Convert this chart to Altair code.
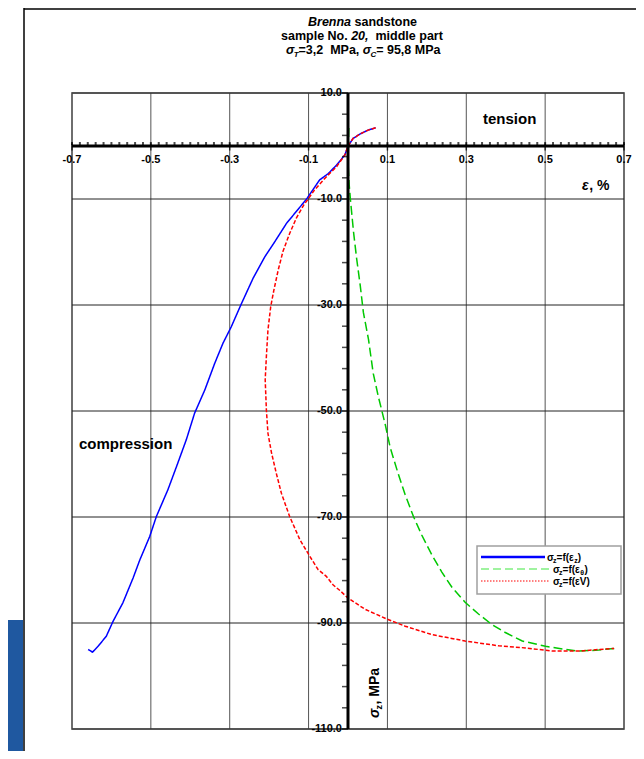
import altair as alt
import pandas as pd

FONT = "Liberation Sans"

# ---------------- data ----------------
blue_x = [0.070, 0.051, 0.030, 0.013, 0.0, -0.008, -0.029, -0.050, -0.072, -0.105, -0.125,
          -0.156, -0.186, -0.211, -0.241, -0.270, -0.296, -0.317, -0.338, -0.363, -0.389,
          -0.410, -0.435, -0.457, -0.486, -0.503, -0.528, -0.545, -0.571, -0.596, -0.613,
          -0.634, -0.648, -0.659]
blue_y = [3.43, 3.0, 2.24, 1.43, 0.0, -1.7, -3.6, -5.2, -6.4, -10.0, -11.8,
          -14.6, -18.1, -20.9, -25.0, -29.7, -34.1, -37.2, -41.0, -46.0, -50.4,
          -55.4, -60.5, -64.9, -69.9, -73.7, -78.1, -81.5, -86.2, -89.7, -92.5,
          -94.4, -95.5, -95.0]

green_x = [0.002, 0.001, 0.0, 0.003, 0.006, 0.014, 0.022, 0.031, 0.039, 0.052, 0.064,
           0.077, 0.094, 0.107, 0.128, 0.145, 0.166, 0.187, 0.213, 0.238, 0.264, 0.297,
           0.331, 0.365, 0.399, 0.442, 0.501, 0.552, 0.586, 0.636, 0.675]
green_y = [3.4, 0.0, -3.0, -7.3, -10.0, -16.2, -21.3, -26.3, -31.4, -36.5, -42.9,
           -47.3, -52.4, -56.9, -62.0, -65.8, -69.9, -73.4, -77.2, -80.4, -83.3, -86.1,
           -88.3, -90.3, -91.8, -93.4, -94.4, -95.0, -95.3, -95.1, -94.8]

red_x = [0.070, 0.051, 0.030, 0.013, 0.0, -0.008, -0.029, -0.060, -0.085, -0.101, -0.112,
         -0.131, -0.148, -0.165, -0.177, -0.188, -0.196, -0.203, -0.207, -0.210, -0.207,
         -0.203, -0.194, -0.182, -0.169, -0.148, -0.122, -0.097, -0.076, -0.055, -0.038,
         -0.020, 0.0, 0.043, 0.100, 0.145, 0.213, 0.297, 0.382, 0.450, 0.518, 0.586,
         0.636, 0.675]
red_y = [3.43, 3.0, 2.24, 1.43, 0.0, -1.7, -3.9, -6.2, -8.3, -10.0, -11.1,
         -13.6, -16.5, -19.9, -23.4, -27.2, -30.3, -34.7, -39.7, -44.1, -49.8,
         -54.2, -57.9, -61.7, -65.5, -69.9, -74.3, -77.4, -79.9, -81.2, -82.8,
         -83.9, -85.3, -87.4, -89.3, -90.6, -92.2, -93.4, -94.3, -94.7, -95.3, -95.3,
         -95.0, -94.8]

series_names = ["ez", "etheta", "eV"]
series_colors = ["#0000FF", "#00C800", "#FF0000"]
series_dashes = [[1, 0], [9, 4], [4, 2]]

x_tick_values = [-0.7, -0.5, -0.3, -0.1, 0.1, 0.3, 0.5, 0.7]
x_tick_labels = ["-0.7", "-0.5", "-0.3", "-0.1", "0.1", "0.3", "0.5", "0.7"]
y_tick_values = [10, -10, -30, -50, -70, -90, -110]
y_tick_labels = ["10.0", "-10.0", "-30.0", "-50.0", "-70.0", "-90.0", "-110.0"]
y_minor_values = [10 - 4 * k for k in range(31)]
x_minor_values = [round(-0.7 + 0.02 * k, 2) for k in range(71)]

# ---------------- geometry ----------------
W, H = 552, 636
PL, PT = 64, 85          # padding -> plot origin at page (72, 93)
OX, OY = 72, 93          # page coords of plot origin

xs = alt.Scale(domain=[-0.7, 0.7], nice=False, zero=False)
ys = alt.Scale(domain=[-110, 10], nice=False, zero=False)

rows = []
for name, xv, yv in [("ez", blue_x, blue_y), ("etheta", green_x, green_y), ("eV", red_x, red_y)]:
    for i, (a, b) in enumerate(zip(xv, yv)):
        rows.append({"series": name, "x": a, "y": b, "i": i})
curves = pd.DataFrame(rows)

# grid lines (drawn as rules from the tick lists)
vgrid = alt.Chart(pd.DataFrame({"v": x_tick_values})).mark_rule(color="#555555", strokeWidth=1).encode(
    x=alt.X("v:Q", scale=xs, axis=None), y=alt.datum(-110, scale=ys, axis=None), y2=alt.datum(10))
hgrid = alt.Chart(pd.DataFrame({"v": y_tick_values})).mark_rule(color="#222222", strokeWidth=1).encode(
    y=alt.Y("v:Q", scale=ys, axis=None), x=alt.datum(-0.7, scale=xs, axis=None), x2=alt.datum(0.7))

curve_layer = alt.Chart(curves).mark_line(strokeWidth=1.5).encode(
    x=alt.X("x:Q", scale=xs, axis=None),
    y=alt.Y("y:Q", scale=ys, axis=None),
    color=alt.Color("series:N", scale=alt.Scale(domain=series_names, range=series_colors), legend=None),
    strokeDash=alt.StrokeDash("series:N", scale=alt.Scale(domain=series_names, range=series_dashes), legend=None),
    order="i:Q",
)

# axes drawn at zero
yaxis_line = alt.Chart().mark_rule(color="black", strokeWidth=3).encode(
    x=alt.datum(0, scale=xs, axis=None), y=alt.datum(-110, scale=ys, axis=None), y2=alt.datum(10))
xaxis_line = alt.Chart().mark_rule(color="black", strokeWidth=3).encode(
    y=alt.datum(0, scale=ys, axis=None), x=alt.datum(-0.7, scale=xs, axis=None), x2=alt.datum(0.7))

ymin_df = pd.DataFrame({"v": y_minor_values})
y_ticks = alt.Chart(ymin_df).mark_tick(orient="horizontal", size=6, thickness=1.5, color="black", xOffset=-3).encode(
    x=alt.datum(0, scale=xs, axis=None), y=alt.Y("v:Q", scale=ys, axis=None))

xmin_df = pd.DataFrame({"v": x_minor_values})
x_ticks = alt.Chart(xmin_df).mark_tick(orient="vertical", size=3, thickness=2, color="black", yOffset=-2.5).encode(
    y=alt.datum(0, scale=ys, axis=None), x=alt.X("v:Q", scale=xs, axis=None))

xmaj_df = pd.DataFrame({"v": x_tick_values, "t": x_tick_labels})
x_major = alt.Chart(xmaj_df).mark_tick(orient="vertical", size=7, thickness=1.5, color="black", yOffset=1).encode(
    y=alt.datum(0, scale=ys, axis=None), x=alt.X("v:Q", scale=xs, axis=None))
x_labels = alt.Chart(xmaj_df).mark_text(font=FONT, fontSize=11, fontWeight="bold", dy=14, color="black").encode(
    x=alt.X("v:Q", scale=xs, axis=None), y=alt.datum(0, scale=ys, axis=None), text="t:N")

ymaj_df = pd.DataFrame({"v": y_tick_values, "t": y_tick_labels})
y_labels = alt.Chart(ymaj_df).mark_text(font=FONT, fontSize=11, fontWeight="bold", align="right",
                                         baseline="middle", dx=-6, color="black").encode(
    y=alt.Y("v:Q", scale=ys, axis=None), x=alt.datum(0, scale=xs, axis=None), text="t:N")

# ---------------- text runs (title, labels, legend) ----------------
CW = {' ': 278, '\u00a0': 278, '(': 333, ')': 333, ',': 278, '-': 333, '.': 278, '=': 584, '%': 889,
      'B': 722, 'C': 722, 'M': 833, 'N': 722, 'P': 667, 'T': 611, 'V': 667,
      'a': 556, 'c': 556, 'd': 611, 'e': 556, 'f': 333, 'i': 278, 'l': 278, 'm': 889, 'n': 611,
      'o': 611, 'p': 611, 'r': 389, 's': 556, 't': 333, 'z': 500,
      'σ': 610, 'ε': 520, 'θ': 610}
for d in "0123456789":
    CW[d] = 556


def runs(parts, x0, y0):
    """Lay out text pieces left to right; leading/trailing blanks become advance only."""
    out = []
    x = x0
    for text, size, italic, dy in parts:
        lead = len(text) - len(text.lstrip(" "))
        x += lead * CW[' '] * size / 1000.0
        core = text.strip(" ")
        out.append({"px": x - OX, "py": y0 + dy - OY, "text": core, "size": size,
                    "style": "italic" if italic else "normal"})
        x += sum(CW.get(c, 600) for c in core) * size / 1000.0
        trail = len(text) - len(text.rstrip(" "))
        x += trail * CW[' '] * size / 1000.0
    return out


T = 12.5
txt = []
txt += runs([("Brenna", T, True, 0), (" sandstone", T, False, 0)], 308, 26)
txt += runs([("sample No. ", T, False, 0), ("20,", T, True, 0), ("  middle part", T, False, 0)], 281, 40)
txt += runs([("σ", T, True, 0), ("T", 8, True, 3), ("=3,2\u00a0\u00a0MPa, ", T, False, 0),
             ("σ", T, True, 0), ("C", 8, True, 3), ("= 95,8 MPa", T, False, 0)], 286, 54)
txt += runs([("tension", 15, False, 0)], 483, 124)
txt += runs([("compression", 15, False, 0)], 79, 449)
txt += runs([("ε", 14, True, 0), (", %", 14, False, 0)], 582, 190)
L = 10
txt += runs([("σ", L, False, 0), ("z", 7, False, 2), ("=f(ε", L, False, 0), ("z", 7, False, 2), (")", L, False, 0)], 547, 561)
txt += runs([("σ", L, False, 0), ("z", 7, False, 2), ("=f(ε", L, False, 0), ("θ", 7, False, 2), (")", L, False, 0)], 553, 573)
txt += runs([("σ", L, False, 0), ("z", 7, False, 2), ("=f(εV)", L, False, 0)], 553, 585)
txt_df = pd.DataFrame(txt)


def text_layer(df, style):
    return alt.Chart(df).mark_text(font=FONT, fontWeight="bold", fontStyle=style, align="left",
                                   baseline="alphabetic", color="black").encode(
        x=alt.X("px:Q", scale=None, axis=None), y=alt.Y("py:Q", scale=None, axis=None),
        text="text:N", size=alt.Size("size:Q", scale=None, legend=None))


text_norm = text_layer(txt_df[txt_df["style"] == "normal"], "normal")
text_ital = text_layer(txt_df[txt_df["style"] == "italic"], "italic")

# rotated y-axis title (reads bottom to top)
rot = pd.DataFrame([
    {"px": 379 - OX, "py": 718 - OY, "text": "σ", "size": 14, "style": "italic"},
    {"px": 382 - OX, "py": 709.5 - OY, "text": "z", "size": 9, "style": "normal"},
    {"px": 379 - OX, "py": 704.5 - OY, "text": ", MPa", "size": 14, "style": "normal"},
])


def rot_layer(df, style):
    return alt.Chart(df).mark_text(font=FONT, fontWeight="bold", fontStyle=style, align="left",
                                   baseline="alphabetic", angle=270, color="black").encode(
        x=alt.X("px:Q", scale=None, axis=None), y=alt.Y("py:Q", scale=None, axis=None),
        text="text:N", size=alt.Size("size:Q", scale=None, legend=None))


rot_n = rot_layer(rot[rot["style"] == "normal"], "normal")
rot_i = rot_layer(rot[rot["style"] == "italic"], "italic")

# legend box and samples
leg_box = alt.Chart().mark_rect(fill="white", stroke="#A0A0A0", strokeWidth=1.5).encode(
    x=alt.value(477 - OX), x2=alt.value(621 - OX), y=alt.value(546 - OY), y2=alt.value(594 - OY))
leg_b = alt.Chart().mark_rule(color="#0000FF", strokeWidth=2.5).encode(
    x=alt.value(481 - OX), x2=alt.value(545 - OX), y=alt.value(557 - OY))
leg_g = alt.Chart().mark_rule(color="#80F080", strokeWidth=1.5, strokeDash=[8, 4]).encode(
    x=alt.value(481 - OX), x2=alt.value(551 - OX), y=alt.value(569 - OY))
leg_r = alt.Chart().mark_rule(color="#FF0000", strokeWidth=1, strokeDash=[1.5, 1.5]).encode(
    x=alt.value(481 - OX), x2=alt.value(550 - OX), y=alt.value(581 - OY))

# outer frame of the scanned page and the blue strip at its left
frame_left = alt.Chart().mark_rule(color="black", strokeWidth=1.5).encode(
    x=alt.value(24 - OX), y=alt.value(6 - OY), y2=alt.value(760 - OY))
frame_top = alt.Chart().mark_rule(color="black", strokeWidth=1.5).encode(
    x=alt.value(24 - OX), x2=alt.value(650 - OX), y=alt.value(9 - OY))
blue_strip = alt.Chart().mark_rect(color="#1F58A0").encode(
    x=alt.value(0 - OX), x2=alt.value(23 - OX), y=alt.value(620 - OY), y2=alt.value(760 - OY))

chart = alt.layer(
    vgrid, hgrid, curve_layer, yaxis_line, xaxis_line, y_ticks, x_ticks, x_major, x_labels, y_labels,
    leg_box, leg_b, leg_g, leg_r, text_norm, text_ital, rot_n, rot_i,
    frame_left, frame_top, blue_strip,
).properties(
    width=W, height=H, autosize="none",
    padding={"left": PL, "top": PT, "right": 12, "bottom": 22},
    background="white",
).configure_view(stroke="#888888", strokeWidth=2)

chart.save("out.html", embed_options={"renderer": "svg", "actions": False})
